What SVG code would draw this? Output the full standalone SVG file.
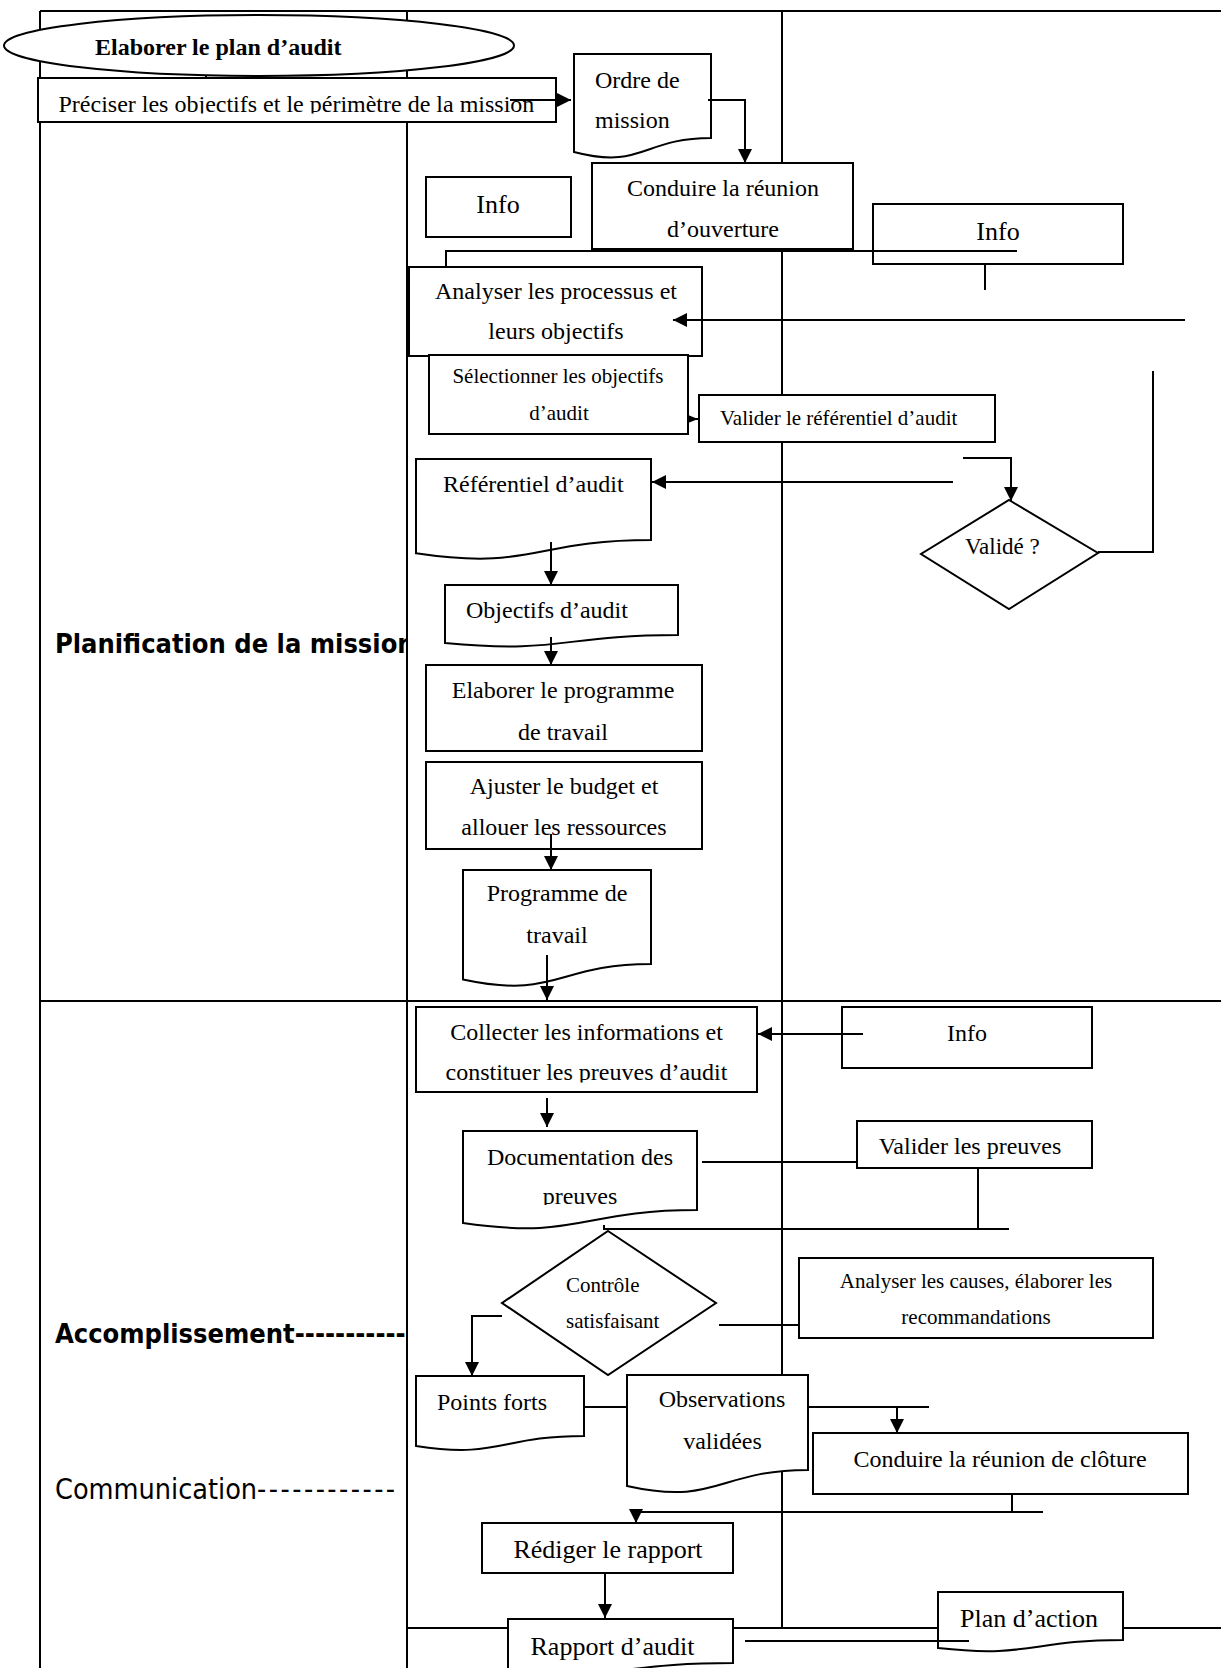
<svg xmlns="http://www.w3.org/2000/svg" width="1221" height="1668" viewBox="0 0 1221 1668">
  <style>
    .ln { fill: none; stroke: #000; stroke-width: 2; }
    .box { fill: #fff; stroke: #000; stroke-width: 2; }
    .t { font-family: "Liberation Serif", "Times New Roman", serif; font-size: 24px; fill: #000; }
    .c { text-anchor: middle; }
    .sm { font-size: 21px; }
    .md { font-size: 23px; }
    .lg { font-size: 26px; }
    .lane { font-family: "DejaVu Sans Condensed", "DejaVu Sans", sans-serif; font-size: 27px; fill: #000; }
    .lane-reg { font-size: 28.5px; }
  </style>
  <defs>
    <marker id="ah" markerUnits="userSpaceOnUse" markerWidth="14" markerHeight="16" viewBox="0 0 14 16" refX="14" refY="8" orient="auto">
      <path d="M0,1 L14,8 L0,15 z" fill="#000"/>
    </marker>
    <marker id="ah-sm" markerUnits="userSpaceOnUse" markerWidth="10" markerHeight="8" viewBox="0 0 10 8" refX="10" refY="4" orient="auto">
      <path d="M0,0 L10,4 L0,8 z" fill="#000"/>
    </marker>
    <clipPath id="clip-lane"><rect x="0" y="0" width="406" height="1668"/></clipPath>
    <clipPath id="clip-preciser"><rect x="0" y="60" width="1221" height="53.5"/></clipPath>
    <clipPath id="clip-collecter"><rect x="0" y="1000" width="1221" height="82.5"/></clipPath>
    <clipPath id="clip-doc"><rect x="0" y="1130" width="1221" height="75"/></clipPath>
  </defs>

  <!-- swimlane frame -->
  <g id="lanes" class="ln">
    <path d="M40,11 H1221"/>
    <path d="M40,11 V1668"/>
    <path d="M407,11 V1668"/>
    <path d="M782,11 V1628"/>
    <path d="M40,1001 H1221"/>
    <path d="M407,1628 H1221"/>
  </g>

  <!-- phase labels -->
  <g id="phase-labels">
    <text class="lane" x="55" y="653" font-weight="bold" clip-path="url(#clip-lane)">Planification de la mission</text>
    <text class="lane" x="55" y="1343" font-weight="bold" clip-path="url(#clip-lane)">Accomplissement-----------</text>
    <text class="lane lane-reg" x="55" y="1499">Communication<tspan textLength="138" lengthAdjust="spacing">------------</tspan></text>
  </g>

  <!-- nodes -->
  <g id="n-plan">
    <ellipse class="box" cx="259" cy="45.5" rx="255" ry="30.5"/>
    <text class="t" x="95" y="55" font-weight="bold">Elaborer le plan d’audit</text>
  </g>
  <g id="n-preciser">
    <rect class="box" x="38" y="78" width="518" height="44"/>
    <text class="t" x="58.5" y="112" clip-path="url(#clip-preciser)">Préciser les objectifs et le périmètre de la mission</text>
  </g>
  <g id="n-ordre">
    <path class="box" d="M574,54 H711 V138 C642.5,138 642.5,170 574,152 Z"/>
    <text class="t" x="595" y="88">Ordre de</text>
    <text class="t" x="595" y="128">mission</text>
  </g>
  <g id="n-info1">
    <rect class="box" x="426" y="177" width="145" height="60"/>
    <text class="t lg c" x="498" y="213">Info</text>
  </g>
  <g id="n-ouverture">
    <rect class="box" x="592" y="163" width="261" height="86"/>
    <text class="t c" x="723" y="196">Conduire la réunion</text>
    <text class="t c" x="723" y="237">d’ouverture</text>
  </g>
  <g id="n-info2">
    <rect class="box" x="873" y="204" width="250" height="60"/>
    <text class="t lg c" x="998" y="240">Info</text>
  </g>
  <g id="n-analyser">
    <rect class="box" x="409" y="267" width="293" height="89"/>
    <text class="t c" x="556" y="299">Analyser les processus et</text>
    <text class="t c" x="556" y="339">leurs objectifs</text>
  </g>
  <g id="n-selectionner">
    <rect class="box" x="429" y="355" width="259" height="79"/>
    <text class="t sm c" x="558" y="383">Sélectionner les objectifs</text>
    <text class="t sm c" x="559" y="420">d’audit</text>
  </g>
  <g id="n-valider-ref">
    <rect class="box" x="699" y="395" width="296" height="47"/>
    <text class="t sm" x="720" y="425">Valider le référentiel d’audit</text>
  </g>
  <g id="n-referentiel">
    <path class="box" d="M416,459 H651 V540 C533.5,540 533.5,570.9 416,553.3 Z"/>
    <text class="t" x="443" y="492">Référentiel d’audit</text>
  </g>
  <g id="n-valide">
    <polygon class="box" points="1009,500 1098,553 1009,609 921,554"/>
    <text class="t md" x="965" y="554">Validé ?</text>
  </g>
  <g id="n-objectifs">
    <path class="box" d="M445,585 H678 V635 C561.5,635 561.5,654 445,643 Z"/>
    <text class="t" x="466" y="618">Objectifs d’audit</text>
  </g>
  <g id="n-elaborer">
    <rect class="box" x="426" y="665" width="276" height="86"/>
    <text class="t c" x="563" y="698">Elaborer le programme</text>
    <text class="t c" x="563" y="740">de travail</text>
  </g>
  <g id="n-ajuster">
    <rect class="box" x="426" y="762" width="276" height="87"/>
    <text class="t c" x="564" y="794">Ajuster le budget et</text>
    <text class="t c" x="564" y="835">allouer les ressources</text>
  </g>
  <g id="n-programme">
    <path class="box" d="M463,870 H651 V964 C557,964 557,999.8 463,979.5 Z"/>
    <text class="t c" x="557" y="901">Programme de</text>
    <text class="t c" x="557" y="943">travail</text>
  </g>
  <g id="n-collecter">
    <rect class="box" x="416" y="1007" width="341" height="85"/>
    <g clip-path="url(#clip-collecter)">
      <text class="t c" x="586.5" y="1040">Collecter les informations et</text>
      <text class="t c" x="586.5" y="1080">constituer les preuves d’audit</text>
    </g>
  </g>
  <g id="n-info3">
    <rect class="box" x="842" y="1007" width="250" height="61"/>
    <text class="t c" x="967" y="1041">Info</text>
  </g>
  <g id="n-documentation">
    <path class="box" d="M463,1131 H697 V1210 C580,1210 580,1240.1 463,1223 Z"/>
    <g clip-path="url(#clip-doc)">
      <text class="t c" x="580" y="1165">Documentation des</text>
      <text class="t c" x="580" y="1204">preuves</text>
    </g>
  </g>
  <g id="n-valider-preuves">
    <rect class="box" x="857" y="1121" width="235" height="47"/>
    <text class="t c" x="970" y="1154">Valider les preuves</text>
  </g>
  <g id="n-controle">
    <polygon class="box" points="608,1231 716,1303 608,1375 502,1303"/>
    <text class="t sm" x="566" y="1292">Contrôle</text>
    <text class="t sm" x="566" y="1328">satisfaisant</text>
  </g>
  <g id="n-causes">
    <rect class="box" x="799" y="1258" width="354" height="80"/>
    <text class="t sm c" x="976" y="1288">Analyser les causes, élaborer les</text>
    <text class="t sm c" x="976" y="1324">recommandations</text>
  </g>
  <g id="n-points-forts">
    <path class="box" d="M416,1376 H584 V1436 C500,1436 500,1458.8 416,1446 Z"/>
    <text class="t" x="437" y="1410">Points forts</text>
  </g>
  <g id="n-observations">
    <path class="box" d="M627,1375 H808 V1470 C717.5,1470 717.5,1506.2 627,1486 Z"/>
    <text class="t c" x="722" y="1407">Observations</text>
    <text class="t c" x="722.5" y="1449">validées</text>
  </g>
  <g id="n-cloture">
    <rect class="box" x="813" y="1433" width="375" height="61"/>
    <text class="t c" x="1000" y="1467">Conduire la réunion de clôture</text>
  </g>
  <g id="n-rediger">
    <rect class="box" x="482" y="1523" width="251" height="50"/>
    <text class="t lg c" x="608" y="1558">Rédiger le rapport</text>
  </g>
  <g id="n-rapport">
    <path class="box" d="M508,1619 H733 V1663 C620.5,1663 620.5,1680 508,1671 Z"/>
    <text class="t lg c" x="612.5" y="1655">Rapport d’audit</text>
  </g>
  <g id="n-plan-action">
    <path class="box" d="M938,1592 H1123 V1640 C1030.5,1640 1030.5,1658.3 938,1648 Z"/>
    <text class="t lg c" x="1029" y="1627">Plan d’action</text>
  </g>

  <!-- connectors -->
  <g id="connectors" class="ln">
    <path d="M206,76 V78"/>
    <path d="M510,100 H571" marker-end="url(#ah)"/>
    <path d="M708,100 H745 V163" marker-end="url(#ah)"/>
    <path d="M446,267 V251 H1017"/>
    <path d="M985,264 V290"/>
    <path d="M1185,320 H673" marker-end="url(#ah)"/>
    <path d="M688,419 H698" marker-end="url(#ah-sm)"/>
    <path d="M963,458 H1011 V501" marker-end="url(#ah)"/>
    <path d="M953,482 H652" marker-end="url(#ah)"/>
    <path d="M1098,552 H1153 V371"/>
    <path d="M551,542 V585" marker-end="url(#ah)"/>
    <path d="M551,637 V665" marker-end="url(#ah)"/>
    <path d="M551,834 V870" marker-end="url(#ah)"/>
    <path d="M547,955 V1000" marker-end="url(#ah)"/>
    <path d="M863,1034 H758" marker-end="url(#ah)"/>
    <path d="M547,1098 V1127" marker-end="url(#ah)"/>
    <path d="M702,1162 H857"/>
    <path d="M978,1168 V1229"/>
    <path d="M1009,1229 H604 V1225"/>
    <path d="M502,1316 H472 V1376" marker-end="url(#ah)"/>
    <path d="M719,1325 H799"/>
    <path d="M584,1407 H627"/>
    <path d="M808,1407 H929"/>
    <path d="M897,1407 V1433" marker-end="url(#ah)"/>
    <path d="M1012,1494 V1512"/>
    <path d="M1043,1512 H636 V1523" marker-end="url(#ah)"/>
    <path d="M605,1573 V1618" marker-end="url(#ah)"/>
    <path d="M745,1641 H969"/>
  </g>
</svg>
